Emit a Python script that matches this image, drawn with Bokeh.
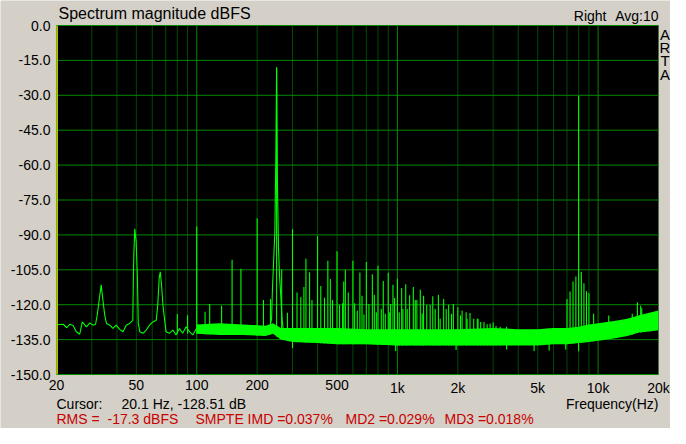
import numpy as np
from bokeh.plotting import figure
from bokeh.models import Range1d, BoxAnnotation
from bokeh.core.properties import value
from bokeh.embed import file_html
from bokeh.resources import INLINE

# ---------------- data ----------------
x_ticks = [20, 50, 100, 200, 500, 1000, 2000, 5000, 10000, 20000]
x_tick_labels = ["20", "50", "100", "200", "500", "1k", "2k", "5k", "10k", "20k"]
y_ticks = [0, -15, -30, -45, -60, -75, -90, -105, -120, -135, -150]
x_minor_grid = [30, 40, 50, 60, 70, 80, 90, 200, 300, 400, 500, 600, 700, 800, 900,
                2000, 3000, 4000, 5000, 6000, 7000, 8000, 9000]
x_decade_grid = [100, 1000, 10000]
f_min, f_max = 20, 20000
db_min, db_max = -150, 0
cursor_freq = 20.1

# low-frequency trace (Hz, dBFS)
lf_freq = [20, 20.8, 21.6, 22.5, 23.3, 24.2, 25.1, 26.1, 26.9, 28.2, 29.3, 30.4, 31.3,
           31.9, 32.6, 33.4, 34.1, 34.8, 35.5, 36.9, 38.2, 39.7, 41.3, 42.9, 44.5, 46.2,
           48.0, 48.3, 48.6, 49.1, 49.9, 50.6, 51.1, 52.0, 54.0, 56.0, 58.2, 60.4, 62.8,
           63.9, 65.0, 65.8, 66.7, 68.0, 69.5, 70.3, 73.0, 76.0, 78.8, 82.0, 85.0, 88.5,
           92.0, 95.5, 100]
lf_db = [-128.5, -128.5, -128.4, -129.9, -128.4, -128.9, -131.6, -132.7, -127.4, -129.5,
         -127.8, -128.8, -128.4, -124.6, -118.3, -111.5, -118.3, -124.6, -128.1, -128.8,
         -130.2, -128.8, -130.6, -131.6, -128.8, -128.1, -126.7, -110.0, -97.9, -87.4,
         -93.0, -108.3, -128.0, -131.6, -132.3, -130.9, -128.8, -127.4, -126.7, -120.4,
         -108.4, -105.9, -111.2, -121.1, -128.1, -131.6, -132.3, -130.9, -133.0, -130.2,
         -132.3, -129.5, -131.6, -133.0, -130.0]

# noise floor band (Hz, upper dB, lower dB)
band_freq = [100, 130, 170, 220, 240, 262, 300, 400, 500, 700, 1000, 1500, 2000, 3000,
             4000, 5000, 6000, 7000, 8000, 9000, 10000, 12000, 14000, 16000, 18000, 20000]
band_hi = [-128.5, -128.0, -128.5, -129.0, -128.0, -130.0, -130.0, -130.0, -130.0, -130.5,
           -130.5, -130.5, -130.5, -130.0, -130.5, -130.5, -130.0, -130.0, -129.5, -128.5,
           -128.0, -127.0, -126.0, -124.5, -123.5, -122.5]
band_lo = [-132.5, -133.0, -133.0, -133.5, -132.5, -135.0, -136.0, -136.5, -137.0, -137.0,
           -137.5, -137.5, -137.5, -137.5, -137.5, -137.5, -137.0, -137.0, -136.5, -136.0,
           -135.5, -134.5, -133.5, -132.0, -131.5, -131.0]

# skirt of the 250 Hz tone
skirt_freq = [230, 236, 238.5, 241, 245, 247.8, 250, 252.5, 255.4, 258.3, 262.3, 266, 270]
skirt_db = [-131, -126, -112.6, -103.5, -88.8, -57, -18.1, -69.1, -95.1, -107, -116.2,
            -126, -131]

# test tones
tone_freq = [250, 8000]
tone_db = [-18.1, -30.3]

# harmonic / intermodulation lines
harm_freq = [100, 150, 166, 200, 265, 300, 350, 400, 450, 500, 550, 600, 650, 700, 750,
             800, 850, 900, 950, 1000, 1050, 1100, 1150, 1200, 1250, 1300, 1350, 1400,
             1500, 1600, 1700, 1800, 1900, 2000, 2100, 2200, 2300, 2400, 2500, 2600, 2700,
             2800, 3000, 3100, 3250, 3500]
harm_db = [-86.4, -100.7, -104.6, -82.8, -104.9, -87.6, -100.3, -90.6, -101.1, -97.0,
           -105.0, -101.1, -106.2, -101.7, -106.9, -103.3, -109.8, -106.3, -111.4, -108.8,
           -112.8, -111.2, -115.9, -112.4, -118.0, -113.6, -116.2, -120.1, -116.4, -115.7,
           -117.6, -120.0, -119.7, -121.1, -122.5, -123.2, -123.6, -126.0, -126.0, -127.4,
           -127.4, -128.4, -127.7, -129.2, -129.5, -129.5]

# sidebands around 8 kHz
side_freq = [7000, 7250, 7500, 7750, 8250, 8500, 8750, 9000, 9500]
side_db = [-117.6, -114.3, -110.0, -107.9, -105.8, -110.8, -114.2, -115.0, -123.9]

# smaller lines and noise peaks
minor_freq = [80, 90, 110, 116, 133, 215, 233, 283, 316, 330, 342, 365, 375, 415, 433,
              463, 475, 515, 533, 540, 569, 612, 631, 666, 681, 721, 767, 785, 831, 870,
              911, 925, 968, 1021, 1065, 1119, 1227, 1329, 1456, 1542, 1633, 1750, 1860,
              2061, 2225, 2523, 2896, 11300, 14800, 15700, 16300, 16500]
minor_db = [-124.0, -124.5, -123.0, -119.7, -120.4, -118.0, -117.6, -123.5, -114.8,
            -116.7, -112.4, -106.0, -118.0, -112.0, -117.0, -109.0, -118.0, -120.0, -119.4,
            -110.0, -114.8, -119.4, -122.5, -116.2, -124.2, -119.7, -115.7, -123.2, -121.8,
            -123.9, -123.2, -119.7, -117.1, -123.2, -121.8, -121.8, -118.0, -123.9, -120.1,
            -121.8, -126.0, -121.8, -123.9, -124.6, -126.0, -126.0, -128.1, -124.6, -123.9,
            -119.0, -120.5, -121.5]

# downward noise dips
dip_freq = [300, 980, 1960, 3500, 4800, 5700, 6900, 8000]
dip_db = [-138.6, -140.0, -139.5, -139.3, -140.0, -139.7, -139.3, -140.0]

# ---------------- layout (pixels) ----------------
W, H = 670, 428
PL, PR, PT, PB = 56, 658, 25, 374          # plot area inside the canvas
GREEN = "#00FF00"
FONT = "Liberation Sans"
BG = "#D4D0C8"
RED = "#C80000"
GRID_MAJ = "#008800"
GRID_MIN = "#004A00"

decade_px = (PR - PL) / np.log10(f_max / f_min)
db_px = (db_max - db_min) / (PB - PT)


def xd(px):  # canvas pixel -> frequency
    return f_min * 10 ** ((px - PL) / decade_px)


def yd(py):  # canvas pixel (from top) -> dB
    return db_max - (py - PT) * db_px


p = figure(width=W, height=H, x_axis_type="log",
           x_range=Range1d(xd(0), xd(W)), y_range=Range1d(yd(H), yd(0)),
           output_backend="svg", toolbar_location=None, title=None,
           min_border=0, x_axis_location=None, y_axis_location=None,
           background_fill_color=BG, border_fill_color=BG,
           outline_line_color=None)
p.xgrid.visible = False
p.ygrid.visible = False

# plot area and grid
p.add_layout(BoxAnnotation(left=f_min, right=f_max, bottom=db_min, top=db_max,
                           fill_color="black", fill_alpha=1, line_color=None,
                           level="image"))
p.segment(x0=x_minor_grid, y0=[db_min] * len(x_minor_grid), x1=x_minor_grid,
          y1=[db_max] * len(x_minor_grid), line_color=GRID_MIN, line_width=1)
p.segment(x0=x_decade_grid, y0=[db_min] * len(x_decade_grid), x1=x_decade_grid,
          y1=[db_max] * len(x_decade_grid), line_color=GRID_MAJ, line_width=1)
p.segment(x0=[f_min] * len(y_ticks), y0=y_ticks, x1=[f_max] * len(y_ticks), y1=y_ticks,
          line_color=GRID_MAJ, line_width=1)

# spectrum
lg = np.log10(band_freq)


def base_of(freqs, env):
    return list(np.interp(np.log10(freqs), lg, env))


p.varea(x=band_freq, y1=band_lo, y2=band_hi, fill_color=GREEN)
p.line(lf_freq, lf_db, line_color=GREEN, line_width=1.1)
p.line(skirt_freq, skirt_db, line_color=GREEN, line_width=1.1)
for fr, db in ((minor_freq, minor_db), (harm_freq, harm_db), (side_freq, side_db),
               (tone_freq, tone_db)):
    p.segment(x0=fr, y0=base_of(fr, band_lo), x1=fr, y1=db, line_color=GREEN,
              line_width=1.1)
p.segment(x0=dip_freq, y0=base_of(dip_freq, band_hi), x1=dip_freq, y1=dip_db,
          line_color=GREEN, line_width=1.1)

# frame outline and cursor
p.add_layout(BoxAnnotation(left=f_min, right=f_max, bottom=db_min, top=db_max,
                           fill_alpha=0, line_color=GRID_MAJ, line_width=1,
                           level="guide"))
p.segment(x0=[cursor_freq], y0=[db_min], x1=[cursor_freq], y1=[db_max],
          line_color="#C8C800", line_width=2)

# tick labels
p.text(x=x_ticks, y=[db_min] * len(x_ticks), text=x_tick_labels, y_offset=5,
       text_align="center", text_baseline="top", text_font=value(FONT),
       text_font_size=value("14px"), text_color="black")
p.text(x=[f_min] * len(y_ticks), y=y_ticks, text=[f"{v:.1f}" for v in y_ticks],
       x_offset=-6, text_align="right", text_baseline="middle",
       text_font=value(FONT), text_font_size=value("14px"), text_color="black")


# other texts (canvas pixels: x, and the y of the capital letters' top edge)
def lab(x, cap_top, t, size=14, color="black", align="left"):
    top = cap_top - 0.176 * size
    p.text(x=[xd(x)], y=[yd(top)], text=[t], text_align=align,
           text_baseline="top", text_font=value(FONT),
           text_font_size=value(f"{size}px"), text_color=color)


lab(58, 7, "Spectrum magnitude dBFS", size=16)
lab(606, 10, "Right", align="right")
lab(658, 10, "Avg:10", align="right")
for i, ch in enumerate("ARTA"):
    lab(664.5, 28 + 13.3 * i, ch, size=15, align="center")
lab(56, 398, "Cursor:")
lab(121, 398, "20.1 Hz, -128.51 dB")
lab(658, 398, "Frequency(Hz)", align="right")
lab(56, 413, "RMS =", color=RED)
lab(107, 413, "-17.3 dBFS", color=RED)
lab(195, 413, "SMPTE IMD =0.037%", color=RED)
lab(345, 413, "MD2 =0.029%", color=RED)
lab(444, 413, "MD3 =0.018%", color=RED)

open("out.html", "w").write(file_html(p, INLINE))
